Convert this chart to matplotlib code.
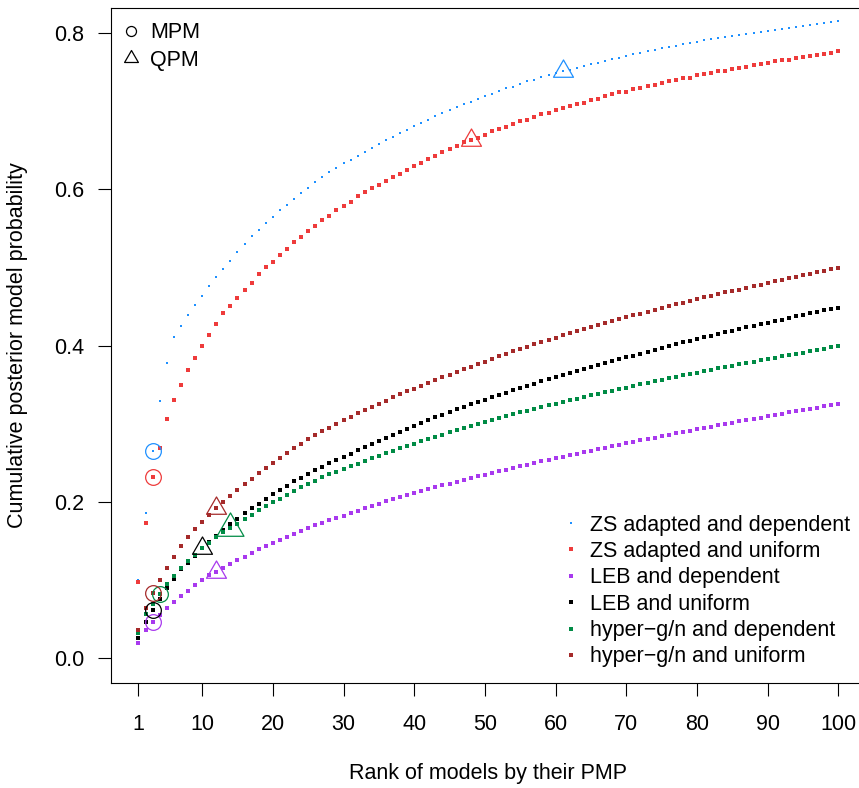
import numpy as np
import matplotlib
matplotlib.use("Agg")
import matplotlib.pyplot as plt
from matplotlib.lines import Line2D
from matplotlib.path import Path

plt.rcParams['font.family'] = ['Liberation Sans', 'DejaVu Sans']

# cumulative posterior model probability, models ranked 1..100 by PMP
rank = np.arange(1, 101)

zs_dep = [0.100, 0.185, 0.2645, 0.329, 0.377, 0.411, 0.425, 0.439, 0.452, 0.463,
          0.476, 0.488, 0.498, 0.508, 0.520, 0.530, 0.540, 0.548, 0.557, 0.5645,
          0.5735, 0.580, 0.588, 0.595, 0.602, 0.609, 0.616, 0.622, 0.627, 0.633,
          0.638, 0.643, 0.648, 0.653, 0.658, 0.663, 0.667, 0.672, 0.676, 0.681,
          0.685, 0.689, 0.694, 0.698, 0.702, 0.7055, 0.709, 0.712, 0.716, 0.720,
          0.722, 0.726, 0.729, 0.731, 0.735, 0.738, 0.740, 0.744, 0.7465, 0.749,
          0.7517, 0.753, 0.7555, 0.758, 0.7606, 0.762, 0.7645, 0.767, 0.768, 0.771,
          0.7735, 0.775, 0.777, 0.7786, 0.781, 0.7825, 0.784, 0.786, 0.7876, 0.789,
          0.7914, 0.7927, 0.794, 0.7953, 0.7965, 0.798, 0.799, 0.8004, 0.8017, 0.803,
          0.8042, 0.8055, 0.8068, 0.808, 0.8093, 0.8106, 0.8119, 0.813, 0.8145, 0.815]

zs_uni = [0.097, 0.173, 0.232, 0.269, 0.306, 0.330, 0.350, 0.369, 0.384, 0.400,
          0.414, 0.428, 0.441, 0.451, 0.461, 0.471, 0.480, 0.491, 0.500, 0.507,
          0.516, 0.524, 0.532, 0.539, 0.547, 0.5535, 0.560, 0.566, 0.573, 0.579,
          0.584, 0.591, 0.596, 0.601, 0.606, 0.611, 0.616, 0.620, 0.625, 0.630,
          0.634, 0.639, 0.643, 0.648, 0.652, 0.656, 0.660, 0.6625, 0.666, 0.670,
          0.674, 0.6765, 0.680, 0.683, 0.687, 0.689, 0.692, 0.696, 0.698, 0.701,
          0.7035, 0.706, 0.7086, 0.711, 0.7137, 0.716, 0.719, 0.7214, 0.724, 0.725,
          0.728, 0.730, 0.7317, 0.734, 0.7355, 0.738, 0.7393, 0.742, 0.743, 0.7457,
          0.747, 0.7483, 0.751, 0.752, 0.7535, 0.7547, 0.757, 0.7586, 0.760, 0.7612,
          0.7637, 0.765, 0.766, 0.7676, 0.769, 0.770, 0.7714, 0.7727, 0.774, 0.7765]

leb_dep = [0.0197, 0.0355, 0.0457, 0.0547, 0.0637, 0.0714, 0.0791, 0.0855, 0.0932, 0.0996,
           0.106, 0.1098, 0.115, 0.120, 0.1252, 0.129, 0.1342, 0.1393, 0.1432, 0.147,
           0.1509, 0.1547, 0.1586, 0.1624, 0.1662, 0.170, 0.1733, 0.1765, 0.1791, 0.1816,
           0.1855, 0.188, 0.1919, 0.1944, 0.197, 0.2009, 0.2034, 0.206, 0.2086, 0.2111,
           0.2137, 0.2162, 0.2188, 0.2214, 0.2227, 0.2252, 0.2278, 0.2303, 0.2329, 0.2342,
           0.2368, 0.2393, 0.2406, 0.2432, 0.2457, 0.247, 0.2496, 0.2521, 0.2534, 0.256,
           0.2573, 0.2598, 0.2611, 0.2637, 0.265, 0.2675, 0.2688, 0.2714, 0.2727, 0.2752,
           0.2765, 0.2791, 0.2803, 0.2816, 0.2842, 0.2855, 0.288, 0.2893, 0.2906, 0.2932,
           0.2944, 0.2957, 0.2983, 0.2996, 0.3009, 0.3034, 0.3047, 0.306, 0.3073, 0.3098,
           0.3111, 0.3124, 0.315, 0.3162, 0.3175, 0.3188, 0.3201, 0.3227, 0.3239, 0.3252]

leb_uni = [0.0252, 0.046, 0.0615, 0.076, 0.0893, 0.1009, 0.1133, 0.122, 0.131, 0.1406,
           0.1487, 0.156, 0.1637, 0.1714, 0.1778, 0.1855, 0.192, 0.197, 0.2035, 0.210,
           0.215, 0.220, 0.2265, 0.2304, 0.2355, 0.2406, 0.2444, 0.2496, 0.2534, 0.2573,
           0.2611, 0.2662, 0.2701, 0.2739, 0.2778, 0.2816, 0.2855, 0.2893, 0.2932, 0.297,
           0.3009, 0.3047, 0.3086, 0.3111, 0.315, 0.3188, 0.3214, 0.3252, 0.3278, 0.3303,
           0.3342, 0.3368, 0.3393, 0.3432, 0.3457, 0.3483, 0.3509, 0.3547, 0.3573, 0.3598,
           0.3624, 0.365, 0.3675, 0.3701, 0.3727, 0.3752, 0.3778, 0.3803, 0.3829, 0.3855,
           0.3868, 0.3893, 0.3919, 0.3945, 0.397, 0.3996, 0.4021, 0.4047, 0.406, 0.4086,
           0.4111, 0.4124, 0.415, 0.4175, 0.4188, 0.4214, 0.4239, 0.4252, 0.4278, 0.4291,
           0.4316, 0.4329, 0.4355, 0.438, 0.4393, 0.4419, 0.4432, 0.4457, 0.447, 0.4483]

hg_dep = [0.0316, 0.0568, 0.0692, 0.082, 0.0944, 0.1056, 0.1154, 0.1239, 0.1316, 0.1406,
          0.147, 0.1547, 0.1611, 0.1662, 0.172, 0.1778, 0.183, 0.1893, 0.1945, 0.1996,
          0.2034, 0.2086, 0.2137, 0.2188, 0.2227, 0.2265, 0.2316, 0.2355, 0.238, 0.2419,
          0.2457, 0.2483, 0.2521, 0.256, 0.2586, 0.2624, 0.265, 0.2688, 0.2714, 0.2739,
          0.2778, 0.2803, 0.2829, 0.2855, 0.2893, 0.2919, 0.2944, 0.297, 0.2996, 0.3021,
          0.3047, 0.3073, 0.3098, 0.3124, 0.315, 0.3162, 0.3188, 0.3214, 0.3239, 0.3252,
          0.3278, 0.3303, 0.3316, 0.3342, 0.3368, 0.338, 0.3406, 0.3419, 0.3444, 0.3457,
          0.3483, 0.3509, 0.3521, 0.3547, 0.356, 0.3586, 0.3598, 0.3624, 0.3637, 0.365,
          0.3675, 0.3688, 0.3714, 0.3727, 0.3739, 0.3765, 0.3778, 0.3791, 0.3816, 0.3829,
          0.3842, 0.3868, 0.388, 0.3893, 0.3906, 0.3932, 0.3945, 0.3957, 0.3983, 0.3996]

hg_uni = [0.0355, 0.064, 0.083, 0.0996, 0.115, 0.129, 0.1432, 0.1547, 0.165, 0.174,
          0.183, 0.192, 0.1996, 0.207, 0.215, 0.2227, 0.229, 0.2368, 0.243, 0.2496,
          0.256, 0.2624, 0.2688, 0.274, 0.2804, 0.2855, 0.2906, 0.2944, 0.2996, 0.3047,
          0.3086, 0.3137, 0.3175, 0.3214, 0.3252, 0.329, 0.3342, 0.338, 0.3419, 0.3444,
          0.3483, 0.3521, 0.356, 0.3598, 0.3624, 0.3662, 0.370, 0.3727, 0.3765, 0.379,
          0.3829, 0.3868, 0.3893, 0.3932, 0.3957, 0.3983, 0.4021, 0.4047, 0.407, 0.4095,
          0.413, 0.4162, 0.4188, 0.4214, 0.4239, 0.4265, 0.4291, 0.4316, 0.4342, 0.4368,
          0.4393, 0.4406, 0.4432, 0.4457, 0.4483, 0.4509, 0.4534, 0.4547, 0.4573, 0.4598,
          0.4624, 0.4637, 0.4662, 0.4688, 0.470, 0.4715, 0.4735, 0.4765, 0.478, 0.4804,
          0.483, 0.4842, 0.4868, 0.488, 0.4906, 0.492, 0.4945, 0.496, 0.4974, 0.4996]

labels = ['ZS adapted and dependent', 'ZS adapted and uniform', 'LEB and dependent',
          'LEB and uniform', 'hyper\u2212g/n and dependent', 'hyper\u2212g/n and uniform']
series = [zs_dep, zs_uni, leb_dep, leb_uni, hg_dep, hg_uni]
colors = ['#1E90FF', '#EE3B3B', '#A839EE', '#000000', '#008B45', '#A52A2A']
# rank of the median probability model and of the highest probability model
mpm_rank = [3, 3, 3, 3, 4, 3]
qpm_rank = [61, 48, 12, 10, 14, 12]

tri = Path([(0, 1), (-0.866, -0.5), (0.866, -0.5), (0, 1)],
           [Path.MOVETO, Path.LINETO, Path.LINETO, Path.CLOSEPOLY])

fig = plt.figure(figsize=(8.59, 7.88), dpi=100)
ax = fig.add_axes([110.5/859, 105/788, 755.9/859, 675/788])

for i in range(6):
    ms = 1.6 if i == 0 else 2.2
    ax.plot(rank, series[i], ls='none', marker='s', ms=ms, mew=0, color=colors[i])

for i in range(6):
    y = series[i]
    ax.plot(mpm_rank[i], y[mpm_rank[i]-1], ls='none', marker='o', ms=11.3,
            mfc='none', mec=colors[i], mew=0.9)
    tsize = 22.4 if i == 4 else 16.6
    ax.plot(qpm_rank[i], y[qpm_rank[i]-1], ls='none', marker=tri, ms=tsize,
            mfc='none', mec=colors[i], mew=0.9)

ax.set_xlim(-2.96, 103.96)
ax.set_ylim(-0.032, 0.832)
ax.set_xticks([1, 10, 20, 30, 40, 50, 60, 70, 80, 90, 100])
ax.set_yticks([0.0, 0.2, 0.4, 0.6, 0.8])
ax.set_yticklabels(['0.0', '0.2', '0.4', '0.6', '0.8'])
ax.tick_params(axis='both', direction='out', length=9.5, width=0.8, labelsize=15.5)
ax.tick_params(axis='x', pad=13)
ax.tick_params(axis='y', pad=9.4)
for s in ax.spines.values():
    s.set_linewidth(0.8)
ax.spines['right'].set_visible(False)

ax.set_xlabel('Rank of models by their PMP', fontsize=15.5)
ax.xaxis.label.set_va('center')
ax.xaxis.set_label_coords(0.5, -0.1348)
ax.set_ylabel('Cumulative posterior model probability', fontsize=15.5)
ax.yaxis.label.set_va('center')
ax.yaxis.set_label_coords(-0.1224, 0.5)

h1 = [Line2D([], [], ls='none', marker='o', ms=7.2, mfc='none', mec='black', mew=0.9),
      Line2D([], [], ls='none', marker=tri, ms=11.5, mfc='none', mec='black', mew=0.9)]
leg1 = ax.legend(h1, ['MPM', 'QPM'], loc='center left',
                 bbox_to_anchor=(125.6/859, 1 - 46.5/788), bbox_transform=fig.transFigure,
                 frameon=False, fontsize=15.5, handlelength=0.5, handletextpad=0.63,
                 borderpad=0, borderaxespad=0, labelspacing=0.28)
ax.add_artist(leg1)

h2 = [Line2D([], [], ls='none', marker='s', ms=(1.6 if i == 0 else 2.2), mew=0,
             color=colors[i]) for i in range(6)]
ax.legend(h2, labels, loc='center left',
          bbox_to_anchor=(565.6/859, 1 - 591/788), bbox_transform=fig.transFigure,
          frameon=False, fontsize=15.5, handlelength=0.5, handletextpad=0.63,
          borderpad=0, borderaxespad=0, labelspacing=0.25)

fig.savefig('out.png', dpi=100)
